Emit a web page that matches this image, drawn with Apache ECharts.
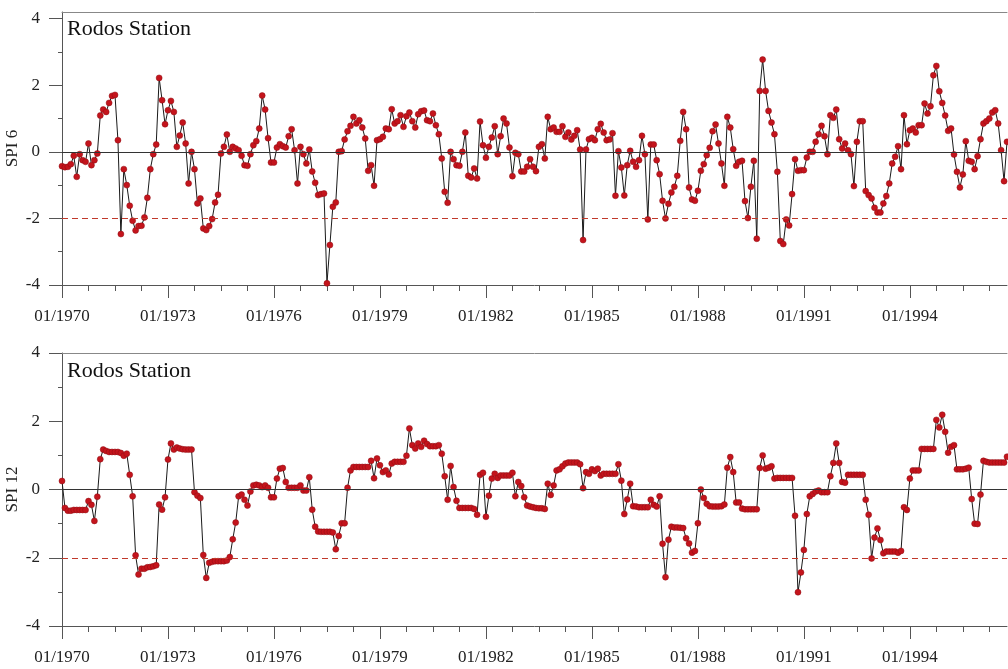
<!DOCTYPE html>
<html>
<head>
<meta charset="utf-8">
<title>Rodos Station SPI</title>
<script src="https://cdn.jsdelivr.net/npm/echarts/dist/echarts.min.js"></script>
<style>
  html, body { margin: 0; padding: 0; background: #fff; }
  #chart { width: 1008px; height: 669px; }
</style>
</head>
<body>
<div id="chart"></div>
<script>
// monthly categories 01/1970 .. 10/1996 (the visible part of the record)
const months = []
for (let y = 1970; y <= 1996; y++) {
  for (let m = 1; m <= 12; m++) {
    if (y === 1996 && m > 10) break
    months.push((m < 10 ? '0' + m : '' + m) + '/' + y)
  }
}

const stationName = 'Rodos Station'
const yMajor = [-4, -2, 0, 2, 4]
const yMinor = [-3, -1, 1, 3]
const droughtLevel = -2

const spi6 = [
  -0.43, -0.46, -0.45, -0.37, -0.12, -0.75, -0.07, -0.25, -0.30, 0.25,
  -0.40, -0.25, -0.05, 1.09, 1.27, 1.20, 1.47, 1.68, 1.71, 0.35,
  -2.47, -0.52, -1.00, -1.62, -2.07, -2.36, -2.23, -2.22, -1.97, -1.38,
  -0.52, -0.07, 0.22, 2.22, 1.55, 0.83, 1.25, 1.53, 1.20, 0.15,
  0.49, 0.88, 0.25, -0.95, 0.00, -0.52, -1.55, -1.40, -2.30, -2.35,
  -2.23, -2.02, -1.52, -1.29, -0.05, 0.15, 0.52, 0.00, 0.15, 0.10,
  0.05, -0.12, -0.40,
  -0.42, -0.07, 0.20, 0.32, 0.70, 1.69, 1.27, 0.41, -0.32, -0.32,
  0.13, 0.23, 0.17, 0.13, 0.47, 0.68, 0.05, -0.95, 0.15, -0.07,
  -0.35, 0.07, -0.59, -0.93, -1.30, -1.27, -1.25, -3.95, -2.80, -1.65,
  -1.52, 0.00, 0.02, 0.37, 0.62, 0.78, 1.05, 0.85, 0.95, 0.73,
  0.40, -0.57, -0.40, -1.02, 0.35, 0.38, 0.45, 0.70, 0.68, 1.28,
  0.85, 0.92, 1.10, 0.75, 1.07, 1.18, 0.92, 0.73, 1.13, 1.22,
  1.24, 0.95, 0.92, 1.15, 0.80, 0.53,
  -0.20, -1.20, -1.53, 0.00, -0.22, -0.40, -0.42, 0.00, 0.58, -0.72,
  -0.77, -0.50, -0.80, 0.91, 0.20, -0.18, 0.15, 0.43, 0.77, -0.07,
  0.47, 1.00, 0.85, 0.13, -0.73, -0.03, -0.07, -0.59, -0.59, -0.45,
  -0.22, -0.45, -0.58, 0.15, 0.23, -0.20, 1.05, 0.68, 0.73, 0.60,
  0.60, 0.77, 0.45, 0.58, 0.37, 0.48, 0.65, 0.07, -2.65, 0.07,
  0.38, 0.42, 0.35, 0.68, 0.84, 0.58, 0.35, 0.37, 0.56, -1.32,
  0.02, -0.47, -1.31, -0.40,
  0.03, -0.30, -0.45, -0.25, 0.48, -0.07, -2.03, 0.22, 0.22, -0.25,
  -0.67, -1.47, -2.00, -1.56, -1.22, -1.05, -0.72, 0.33, 1.20, 0.68,
  -1.07, -1.43, -1.47, -1.17, -0.57, -0.37, -0.10, 0.12, 0.62, 0.82,
  0.25, -0.35, -1.02, 1.05, 0.73, 0.08, -0.42, -0.30, -0.27, -1.48,
  -1.99, -1.05, -0.27, -2.61, 1.83, 2.77, 1.83, 1.23, 0.88, 0.53,
  -0.60, -2.68, -2.77, -2.03, -2.21, -1.27, -0.22, -0.57, -0.55, -0.55,
  -0.17, 0.00, 0.00, 0.30, 0.53,
  0.78, 0.47, -0.07, 1.10, 1.02, 1.27, 0.38, 0.10, 0.25, 0.05,
  -0.07, -1.03, 0.30, 0.92, 0.92, -1.18, -1.30, -1.40, -1.68, -1.82,
  -1.82, -1.55, -1.33, -0.95, -0.35, -0.15, 0.17, -0.52, 1.10, 0.23,
  0.65, 0.70, 0.58, 0.80, 0.80, 1.45, 1.15, 1.37, 2.30, 2.58,
  1.82, 1.47, 1.09, 0.63, 0.70, -0.08, -0.60, -1.07, -0.68, 0.32,
  -0.27, -0.30, -0.52, -0.13, 0.38, 0.85, 0.92, 1.00, 1.18, 1.25,
  0.85, 0.05, -0.88, 0.30
]

const spi12 = [
  0.25, -0.54, -0.62, -0.62, -0.60, -0.60, -0.60, -0.60, -0.60, -0.34,
  -0.45, -0.92, -0.21, 0.89, 1.17, 1.13, 1.10, 1.10, 1.10, 1.10,
  1.07, 0.99, 1.05, 0.43, -0.20, -1.93, -2.49, -2.32, -2.32, -2.28,
  -2.27, -2.25, -2.22, -0.44, -0.59, -0.23, 0.88, 1.35, 1.17, 1.23,
  1.20, 1.18, 1.17, 1.17, 1.17, -0.08, -0.18, -0.25, -1.92, -2.59,
  -2.15, -2.12, -2.10, -2.10, -2.10, -2.10, -2.08, -1.98, -1.46, -0.97,
  -0.20, -0.15, -0.30,
  -0.47, -0.06, 0.12, 0.14, 0.12, 0.07, 0.12, 0.05, -0.23, -0.23,
  0.32, 0.61, 0.63, 0.22, 0.05, 0.05, 0.05, 0.05, 0.12, -0.03,
  -0.03, 0.36, -0.59, -1.09, -1.23, -1.24, -1.24, -1.24, -1.24, -1.26,
  -1.75, -1.36, -0.99, -0.99, 0.05, 0.56, 0.66, 0.66, 0.66, 0.66,
  0.66, 0.66, 0.84, 0.33, 0.91, 0.71, 0.51, 0.56, 0.44, 0.76,
  0.81, 0.81, 0.81, 0.81, 0.99, 1.79, 1.30, 1.20, 1.35, 1.25,
  1.43, 1.33, 1.27, 1.27, 1.27, 1.30,
  1.05, 0.39, -0.30, 0.69, 0.07, -0.33, -0.54, -0.54, -0.54, -0.54,
  -0.54, -0.57, -0.74, 0.43, 0.49, -0.80, -0.18, 0.32, 0.46, 0.34,
  0.41, 0.41, 0.41, 0.41, 0.49, -0.20, 0.22, 0.10, -0.23, -0.47,
  -0.50, -0.52, -0.54, -0.55, -0.55, -0.57, 0.17, -0.16, 0.12, 0.56,
  0.59, 0.68, 0.76, 0.79, 0.79, 0.79, 0.79, 0.74, 0.04, 0.51,
  0.46, 0.59, 0.54, 0.61, 0.41, 0.46, 0.46, 0.46, 0.46, 0.46,
  0.74, 0.26, -0.72, -0.29, 0.17,
  -0.49, -0.50, -0.52, -0.52, -0.52, -0.52, -0.30, -0.45, -0.50, -0.20,
  -1.59, -2.57, -1.47, -1.09, -1.11, -1.11, -1.12, -1.13, -1.43, -1.58,
  -1.85, -1.80, -0.99, 0.00, -0.25, -0.42, -0.49, -0.50, -0.50, -0.50,
  -0.49, -0.44, 0.64, 0.95, 0.51, -0.38, -0.38, -0.56, -0.58, -0.58,
  -0.58, -0.58, -0.58, 0.63, 1.00, 0.61, 0.64, 0.68, 0.32, 0.34,
  0.34, 0.34, 0.34, 0.34, 0.34, -0.77, -3.01, -2.43, -1.77, -0.72,
  -0.20, -0.13, -0.06, -0.03,
  -0.08, -0.08, -0.08, 0.39, 0.78, 1.35, 0.78, 0.22, 0.20, 0.43,
  0.43, 0.43, 0.43, 0.43, 0.43, -0.30, -0.74, -2.02, -1.41, -1.14,
  -1.48, -1.87, -1.82, -1.82, -1.82, -1.82, -1.85, -1.80, -0.52, -0.60,
  0.32, 0.56, 0.56, 0.56, 1.19, 1.19, 1.19, 1.19, 1.19, 2.04,
  1.82, 2.19, 1.69, 1.08, 1.25, 1.30, 0.59, 0.59, 0.59, 0.61,
  0.64, -0.28, -1.00, -1.01, -0.15, 0.84, 0.81, 0.79, 0.79, 0.79,
  0.79, 0.79, 0.79, 0.96
]

const serif = '"Liberation Serif", "Times New Roman", serif'
const axisColor = '#555'
const textColor = '#222'

// labelled axis with the long ticks (every 36 months)
function mainXAxis (gridIndex) {
  return {
    type: 'category',
    gridIndex: gridIndex,
    position: 'bottom',
    data: months,
    boundaryGap: false,
    axisLine: { onZero: false, lineStyle: { color: axisColor, width: 1 } },
    axisTick: { interval: 35, length: 13, lineStyle: { color: axisColor } },
    axisLabel: { interval: 35, margin: 23, fontFamily: serif, fontSize: 17, color: textColor },
    splitLine: { show: false }
  }
}

// short ticks every 9 months
function minorXAxis (gridIndex) {
  return {
    type: 'category',
    gridIndex: gridIndex,
    position: 'bottom',
    data: months,
    boundaryGap: false,
    axisLine: { show: false, onZero: false },
    axisTick: { interval: 8, length: 6, lineStyle: { color: axisColor } },
    axisLabel: { show: false },
    splitLine: { show: false }
  }
}

// top frame line of each panel
function topXAxis (gridIndex) {
  return {
    type: 'value',
    gridIndex: gridIndex,
    position: 'top',
    min: 0,
    max: 1,
    axisLine: { show: true, onZero: false, lineStyle: { color: '#888', width: 1 } },
    axisTick: { show: false },
    axisLabel: { show: false },
    splitLine: { show: false }
  }
}

function mainYAxis (gridIndex, name, max) {
  return {
    type: 'value',
    gridIndex: gridIndex,
    position: 'left',
    min: -4,
    max: max,
    interval: 1,
    name: name,
    nameLocation: 'middle',
    nameGap: 41,
    nameMoveOverlap: false,
    nameTextStyle: { fontFamily: serif, fontSize: 17, color: textColor },
    axisLine: { show: true, onZero: false, lineStyle: { color: axisColor, width: 1 } },
    axisTick: { show: true, length: 13, customValues: yMajor, lineStyle: { color: axisColor } },
    axisLabel: {
      margin: 22,
      customValues: yMajor,
      fontFamily: serif,
      fontSize: 17,
      color: textColor,
      formatter: v => (yMajor.indexOf(v) >= 0 ? String(v) : '')
    },
    splitLine: { show: false }
  }
}

function minorYAxis (gridIndex, max) {
  return {
    type: 'value',
    gridIndex: gridIndex,
    position: 'left',
    min: -4,
    max: max,
    interval: 1,
    axisLine: { show: false, onZero: false },
    axisTick: { show: true, length: 4, customValues: yMinor, lineStyle: { color: axisColor } },
    axisLabel: { show: false },
    splitLine: { show: false }
  }
}

function spiSeries (data, xIndex, yIndex) {
  return {
    type: 'line',
    xAxisIndex: xIndex,
    yAxisIndex: yIndex,
    data: data,
    symbol: 'circle',
    symbolSize: 6,
    showAllSymbol: true,
    lineStyle: { color: '#1a1a1a', width: 1 },
    itemStyle: { color: '#c4141c', borderColor: '#8f0f15', borderWidth: 0.5 },
    emphasis: { disabled: true },
    markLine: {
      silent: true,
      symbol: 'none',
      label: { show: false },
      animation: false,
      data: [
        { yAxis: 0, lineStyle: { color: '#333', type: 'solid', width: 1.2 } },
        { yAxis: droughtLevel, lineStyle: { color: '#c0392b', type: [6, 4], width: 1 } }
      ]
    }
  }
}

const titleStyle = { fontFamily: serif, fontSize: 22, fontWeight: 'normal', color: '#111' }

const mychart = echarts.init(document.getElementById('chart'))
mychart.setOption({
  animation: false,
  backgroundColor: '#fff',
  title: [
    { text: stationName, left: 62, top: 13, textStyle: titleStyle },
    { text: stationName, left: 62, top: 355, textStyle: titleStyle }
  ],
  grid: [
    { left: 62, right: 1, top: 12, bottom: 384, outerBoundsMode: 'none' },
    { left: 62, right: 1, top: 353, bottom: 43, outerBoundsMode: 'none' }
  ],
  xAxis: [mainXAxis(0), minorXAxis(0), topXAxis(0), mainXAxis(1), minorXAxis(1), topXAxis(1)],
  yAxis: [mainYAxis(0, 'SPI 6', 4.2), minorYAxis(0, 4.2), mainYAxis(1, 'SPI 12', 4), minorYAxis(1, 4)],
  series: [spiSeries(spi6, 0, 0), spiSeries(spi12, 3, 2)]
})
</script>
</body>
</html>
